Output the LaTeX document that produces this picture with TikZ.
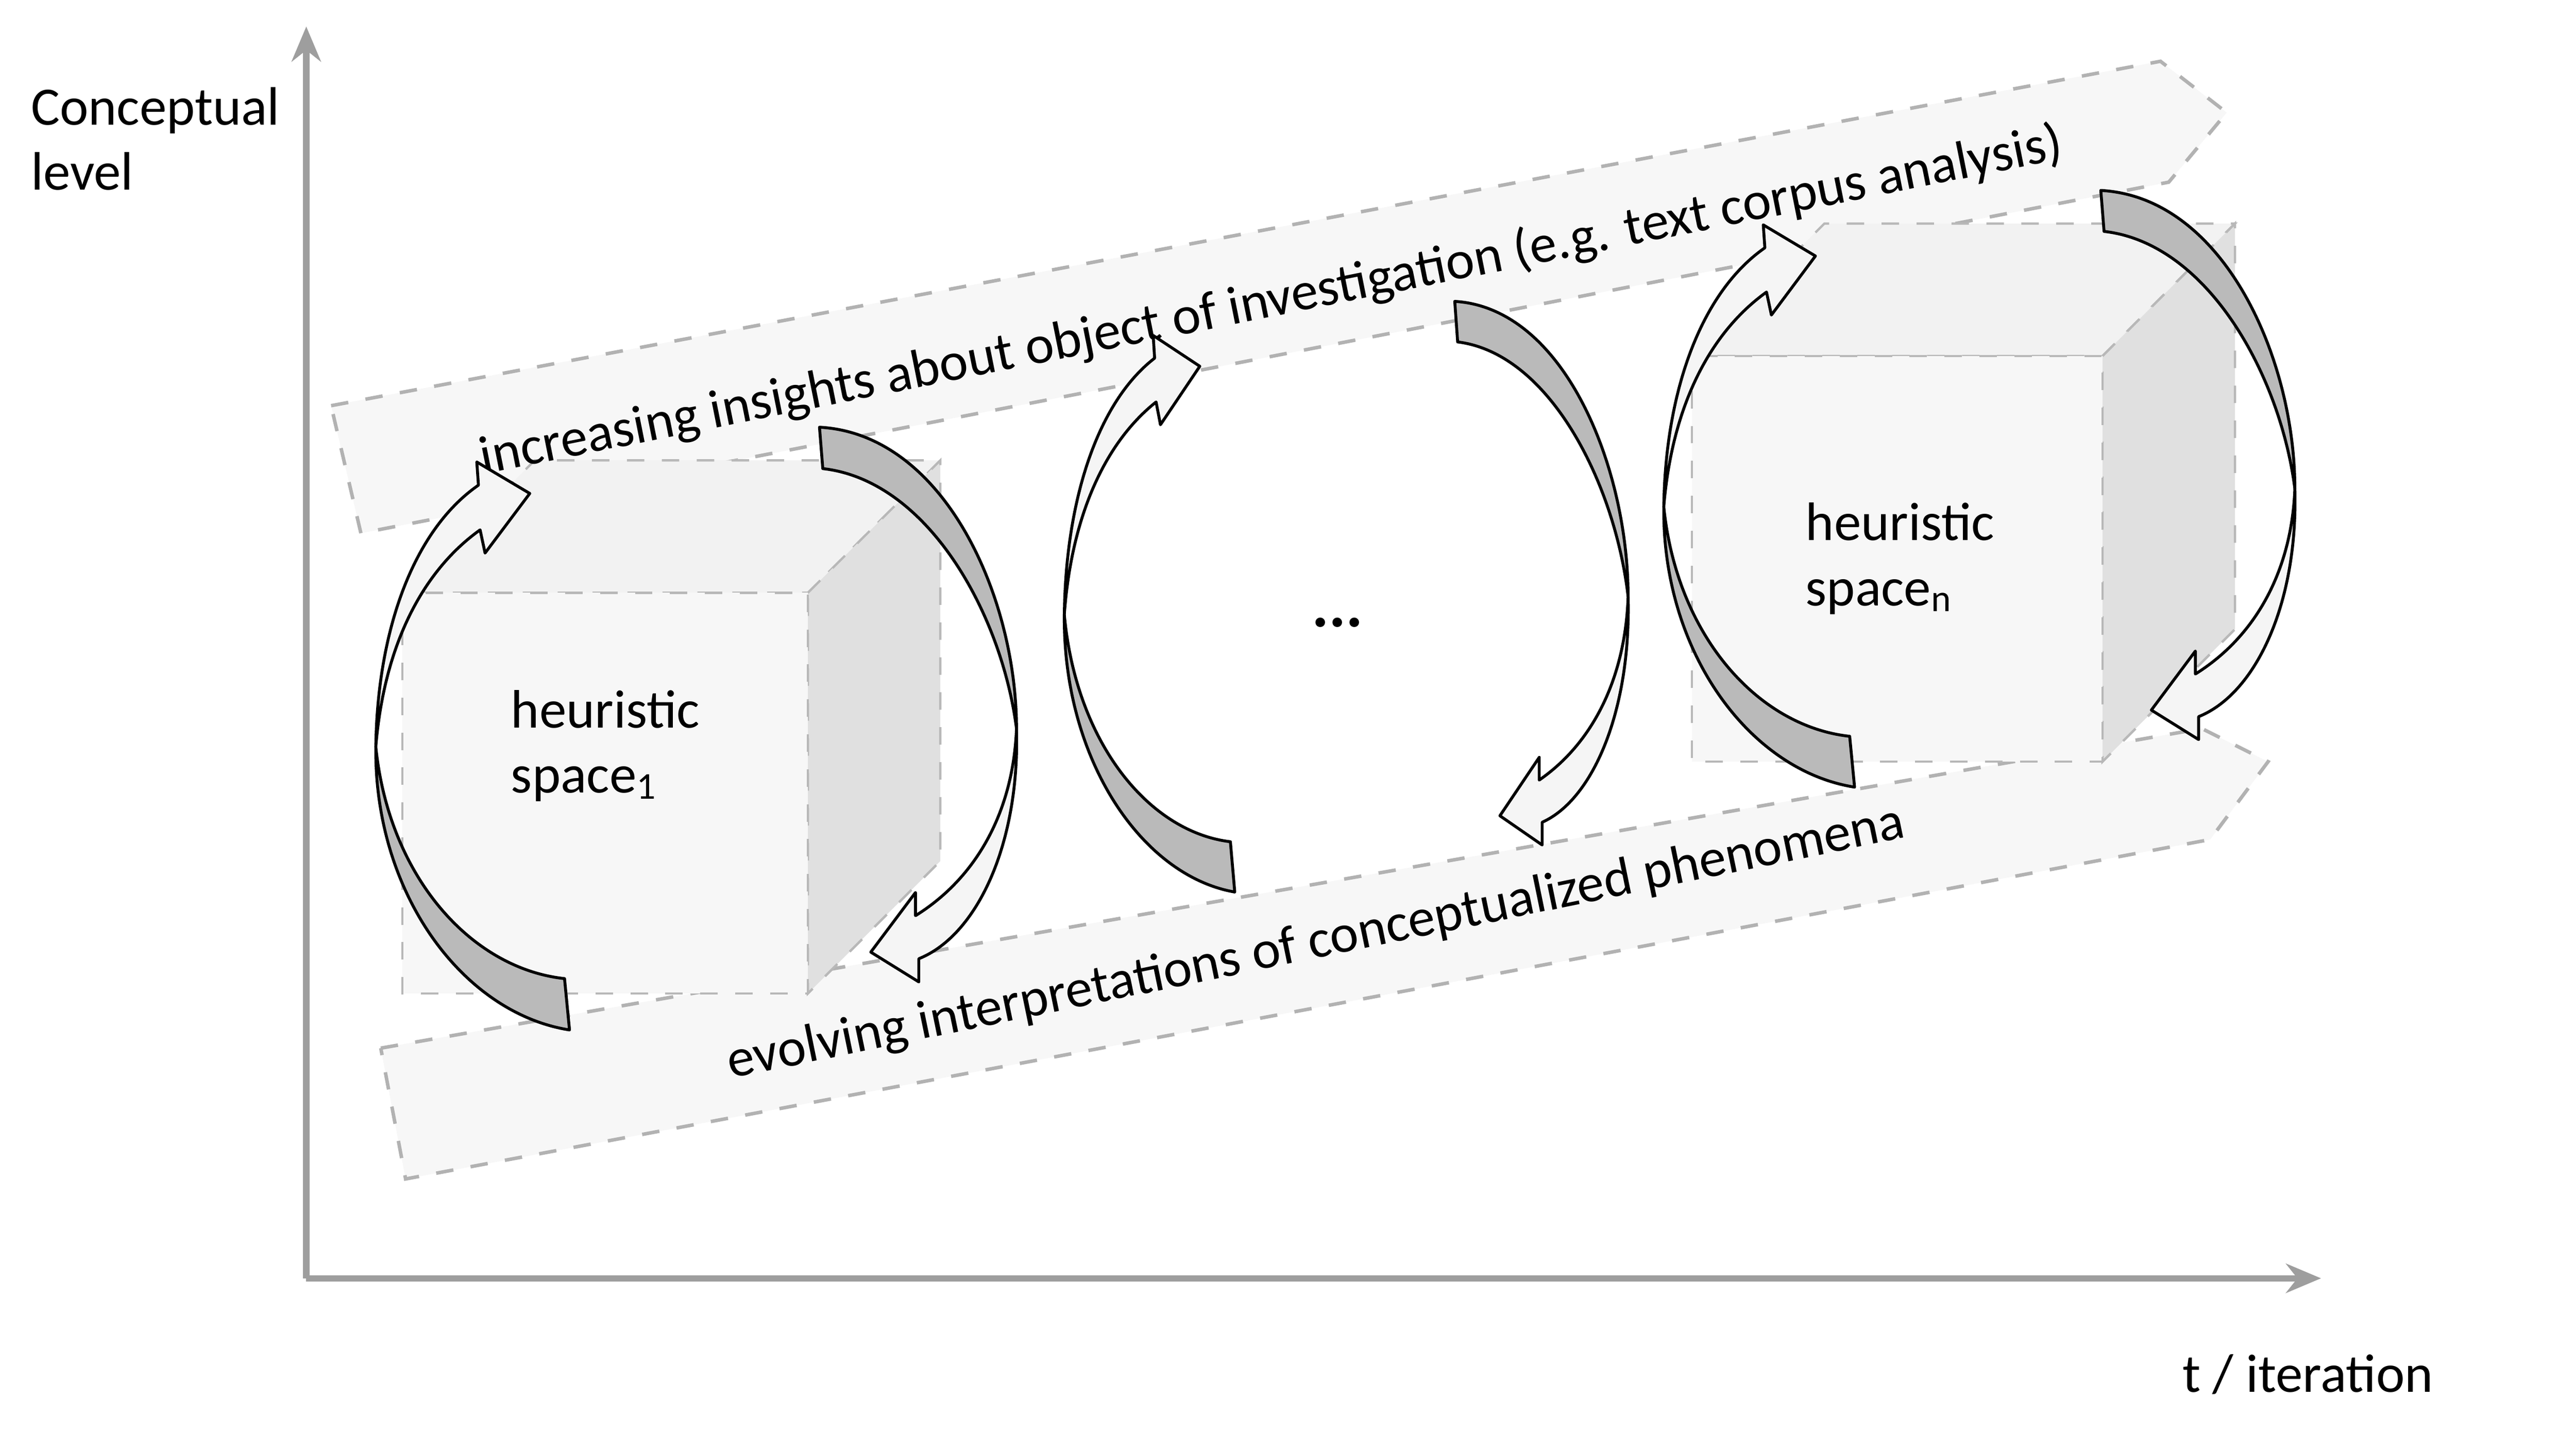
\documentclass[tikz,border=0pt]{standalone}
\usepackage{fontspec}
\setmainfont{Carlito}
\usetikzlibrary{arrows.meta}
\tikzset{
  band/.style={draw=black!30,dashed,fill=black!3,line width=0.6pt},
  cubeedge/.style={draw=black!28,dashed,line width=0.4pt},
  darkpart/.style={draw=black,fill=black!27,line width=0.5pt,line join=round},
  lightpart/.style={draw=black,fill=black!4,line width=0.5pt,line join=round},
  axis/.style={draw=black!38,line width=1.1pt,-{Stealth[length=6pt,width=5pt]}},
  lbl/.style={font=\fontsize{9.3}{11.2}\selectfont,align=left,inner sep=0pt}
}
\newcommand{\mycycle}{%
  \path[darkpart] (118,364) .. controls (54,354) and (0,282) .. (1,193) .. controls (9,272) and (59,327) .. (115,333) -- cycle;
  \path[lightpart] (1,193) .. controls (2,122) and (24,62) .. (63,35) -- (62,21) -- (94,40) -- (67,76) -- (64,62) .. controls (29,87) and (6,132) .. (1,193) -- cycle;
  \path[darkpart] (269,0) .. controls (344,4) and (388,102) .. (388,182) .. controls (379,112) and (334,32) .. (271,25) -- cycle;
  \path[lightpart] (388,182) .. controls (390,252) and (364,307) .. (329,321) -- (329,335) -- (300,317) -- (327,281) -- (327,295) .. controls (364,272) and (386,232) .. (388,182) -- cycle;
}
\newcommand{\mycube}[4]{% x1 y1 x2 y2 of front face, offset 80
  \path[cubeedge,fill=black!5] (#1,#2) -- ++(80,-80) -- ++(#3-#1,0) -- (#3,#2) -- cycle;
  \path[cubeedge,fill=black!12] (#3,#2) -- ++(80,-80) -- ++(0,#4-#2) -- (#3,#4) -- cycle;
  \path[cubeedge,fill=black!3] (#1,#2) rectangle (#3,#4);
}
\begin{document}
\begin{tikzpicture}[x=0.01cm,y=-0.01cm]
\useasboundingbox[fill=white] (0,0) rectangle (1556,875);
% axes
\coordinate (o) at (185,772);
\coordinate (ytop) at (185,16);
\coordinate (xend) at (1402,772);
\draw[axis] (o) -- (ytop);
\draw[axis] (o) -- (xend);
\node[lbl,anchor=north west] (ylab) at (18,52) {Conceptual\\level};
\node[lbl] (xlab) at (1394,830) {t / iteration};
% bands
\path[band] (200,245) -- (1305,37) -- (1345,68) -- (1310,110) -- (218,322) -- cycle;
\path[band] (230,633) -- (1330,440) -- (1370,460) -- (1335,507) -- (245,712) -- cycle;
% cubes
\mycube{243}{358}{488}{600}
\mycube{1022}{215}{1270}{460}
% texts
\node[lbl,rotate=11.3] (t1) at (768,182) {increasing insights about object of investigation (e.g. text corpus analysis)};
\node[lbl,rotate=11.6] (t2) at (795,570) {evolving interpretations of conceptualized phenomena};
\node[lbl,anchor=north west] (h1) at (308,416) {heuristic\\space\textsubscript{1}};
\node[lbl,anchor=north west] (hn) at (1090,303) {heuristic\\space\textsubscript{n}};
\node[lbl,font=\fontsize{11}{12}\selectfont\bfseries] (dots) at (808,376) {...};
% cycles
\begin{scope}[shift={(226,258)}]\mycycle\end{scope}
\begin{scope}[shift={(642,182)},xscale=0.88,yscale=0.98]\mycycle\end{scope}
\begin{scope}[shift={(1004,115)},xscale=0.985,yscale=0.99]\mycycle\end{scope}
\end{tikzpicture}
\end{document}
